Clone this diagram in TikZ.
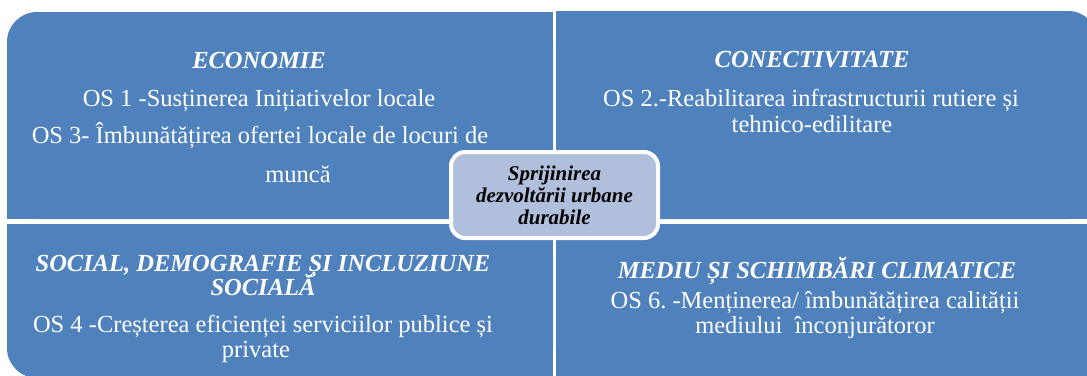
\documentclass[tikz,border=0pt]{standalone}
\usepackage{fontspec}
\setmainfont{Liberation Serif}
\frenchspacing
\definecolor{panelblue}{HTML}{4F81BD}
\definecolor{centerfill}{HTML}{B0C0DC}
\tikzset{
  x=1pt, y=1pt,
  panel/.style={fill=panelblue},
  ptext/.style={text=white, anchor=base, inner sep=0pt, font=\fontsize{24.5}{26}\selectfont},
  ptitle/.style={ptext, font=\fontsize{24.5}{26}\selectfont\bfseries\itshape},
  hub/.style={draw=white, line width=4pt, fill=centerfill, rounded corners=14pt,
    minimum width=207pt, minimum height=86pt, align=center, inner sep=0pt,
    font=\fontsize{21}{22}\selectfont\bfseries\itshape, text=black}
}
\begin{document}
\begin{tikzpicture}
\useasboundingbox (0,0) rectangle (1087,-375);
\clip (0,0) rectangle (1087,-375);
% top-left panel
\fill[panel,rounded corners=30pt] (7,-12) rectangle (553,-219);
\fill[panel] (37,-12) rectangle (553,-219);
\fill[panel] (7,-42) rectangle (553,-219);
% top-right panel
\fill[panel,rounded corners=30pt] (556,-11) rectangle (1098,-219);
\fill[panel] (556,-11) rectangle (1068,-219);
\fill[panel] (556,-41) rectangle (1098,-219);
% bottom-left panel
\fill[panel,rounded corners=30pt] (7,-224) rectangle (553,-378);
\fill[panel] (37,-224) rectangle (553,-378);
\fill[panel] (7,-224) rectangle (553,-348);
% bottom-right panel
\fill[panel,rounded corners=30pt] (556,-224) rectangle (1098,-388);
\fill[panel] (556,-224) rectangle (1068,-388);
\fill[panel] (556,-224) rectangle (1098,-358);

% texts
\node[ptitle] (t1) at (259,-68) {ECONOMIE};
\node[ptext] (e1) at (259,-106) {OS 1 -Susținerea Inițiativelor locale};
\node[ptext] (e2) at (260,-143) {OS 3- Îmbunătățirea ofertei locale de locuri de};
\node[ptext] (e3) at (298,-182) {muncă};

\node[ptitle] (t2) at (812,-67) {CONECTIVITATE};
\node[ptext] (c1) at (811,-106) {OS 2.-Reabilitarea infrastructurii rutiere și};
\node[ptext] (c2) at (812,-132) {tehnico-edilitare};

\node[ptitle] (t3) at (263,-271) {SOCIAL, DEMOGRAFIE ȘI INCLUZIUNE};
\node[ptitle] (t3b) at (263,-295) {SOCIALĂ};
\node[ptext] (s1) at (263,-332) {OS 4 -Creșterea eficienței serviciilor publice și};
\node[ptext] (s2) at (256,-357) {private};

\node[ptitle] (t4) at (817,-278) {MEDIU ȘI SCHIMBĂRI CLIMATICE};
\node[ptext] (m1) at (815,-308) {OS 6. -Menținerea/ îmbunătățirea calității};
\node[ptext] (m2) at (815,-333) {mediului\ \ înconjurătoror};

\node[hub] (hub) at (554.5,-195) {Sprijinirea\\dezvoltării urbane\\durabile};
\end{tikzpicture}
\end{document}
